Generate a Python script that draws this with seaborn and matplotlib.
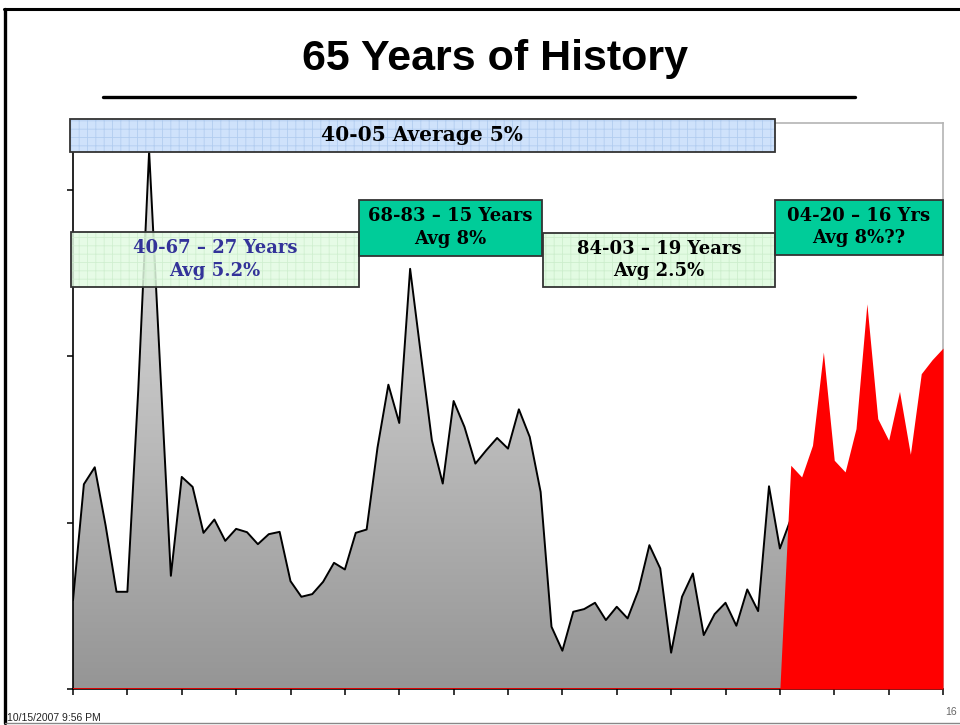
import numpy as np
import matplotlib
matplotlib.use('Agg')
import matplotlib.pyplot as plt
from matplotlib.colors import LinearSegmentedColormap
from matplotlib.patches import Rectangle
from matplotlib.lines import Line2D
import seaborn as sns

# ─── data ───────────────────────────────────────────────────────────────────
years_hist = list(range(1940, 2007))
rate_hist = [2.67, 6.15, 6.66, 4.91, 2.92, 2.92, 8.98, 16.15, 9.75, 3.40,
             6.37, 6.07, 4.69, 5.09, 4.45, 4.81, 4.71, 4.35, 4.65, 4.72,
             3.24, 2.77, 2.85, 3.22, 3.79, 3.59, 4.69, 4.79, 7.25, 9.14,
             7.99, 12.62, 10.02, 7.47, 6.17, 8.65, 7.87, 6.77, 7.17, 7.54,
             7.22, 8.40, 7.57, 5.92, 1.87, 1.15, 2.32, 2.40, 2.59, 2.07,
             2.47, 2.12, 2.97, 4.32, 3.62, 1.09, 2.77, 3.47, 1.62, 2.25,
             2.59, 1.90, 2.99, 2.34, 6.09, 4.22, 5.10]

years_fcst = list(range(2005, 2021))
rate_fcst = [0.0, 6.72, 6.37, 7.32, 10.12, 6.87, 6.52, 7.82, 11.57, 8.12,
             7.47, 8.94, 7.05, 9.47, 9.89, 10.24]

x_ticks = list(range(1940, 2021, 5))
y_ticks = [0, 5, 10, 15]

title = '65 Years of History'
avg_label = '40-05 Average 5%'
period_labels = ['40-67 – 27 Years\nAvg 5.2%',
                 '68-83 – 15 Years\nAvg 8%',
                 '84-03 – 19 Years\nAvg 2.5%',
                 '04-20 – 16 Yrs\nAvg 8%??']
footer_date = '10/15/2007 9:56 PM'
page_no = '16'

# ─── style ──────────────────────────────────────────────────────────────────
sns.set_style('white')
plt.rcParams['font.family'] = ['DejaVu Sans']
plt.rcParams['hatch.linewidth'] = 0.6
plt.rcParams['text.color'] = 'black'

W, H = 960, 725
fig = plt.figure(figsize=(W / 100, H / 100), dpi=100)
fig.patch.set_facecolor('white')
ax = fig.add_axes([73 / W, 1 - 689 / H, 870 / W, 566 / H])

# ── gray history area with vertical gradient ──
grad_cmap = LinearSegmentedColormap.from_list('g', ['#959595', '#e6e6e6'])
poly = ax.fill_between(years_hist, rate_hist, 0, facecolor='none',
                       edgecolor='none', zorder=1)
grad = np.linspace(0, 1, 256).reshape(-1, 1)
im = ax.imshow(grad, extent=[years_hist[0], years_hist[-1], 0, max(rate_hist)],
               origin='lower', cmap=grad_cmap, aspect='auto', zorder=1)
im.set_clip_path(poly.get_paths()[0], transform=ax.transData)
sns.lineplot(x=years_hist, y=rate_hist, color='black', lw=1.4, ax=ax, zorder=2)

# ── red forecast area ──
ax.fill_between(years_fcst, rate_fcst, 0, color='#ff0000', lw=0, zorder=3)
ax.axhline(0, color='#ff0000', lw=1.2, zorder=4)

ax.set_xlim(1940, 2020)
ax.set_ylim(0, 17)
ax.set_xticks(x_ticks)
ax.set_yticks(y_ticks)
ax.set_xticklabels([])
ax.set_yticklabels([])
ax.set_xlabel('')
ax.set_ylabel('')
ax.tick_params(axis='both', direction='out', length=4.5, width=1.1,
               color='black', bottom=True, left=True, top=False, right=False)
for s in ['left', 'bottom']:
    ax.spines[s].set_color('black')
    ax.spines[s].set_linewidth(1.2)
for s in ['top', 'right']:
    ax.spines[s].set_color('#b4b4b4')
    ax.spines[s].set_linewidth(1.2)

# ── label boxes (x0, x1, y0, y1 in data units) ──
def label_box(x0, x1, y0, y1, text, fc, hc, tc, size, alpha=1.0):
    ax.add_patch(Rectangle((x0, y0), x1 - x0, y1 - y0, facecolor=fc,
                           edgecolor=hc, hatch='++' if hc else None, lw=0,
                           alpha=alpha, zorder=6, clip_on=False))
    ax.add_patch(Rectangle((x0, y0), x1 - x0, y1 - y0, fill=False,
                           edgecolor='#333333', lw=1.3, zorder=7, clip_on=False))
    ax.text((x0 + x1) / 2, (y0 + y1) / 2, text, ha='center', va='center',
            color=tc, fontsize=size, fontweight='bold', family='DejaVu Serif',
            linespacing=1.3, zorder=8, clip_on=False)

LIGHT, LIGHT_H = '#e2fbe2', '#cdeecd'
TEAL = '#00cc99'
label_box(1939.7, 2004.55, 16.14, 17.13, avg_label, '#cfe2fb', '#b2cdf0', 'black', 14.5)
label_box(1939.8, 1966.3, 12.06, 13.74, period_labels[0], LIGHT, LIGHT_H, '#333399', 13, alpha=0.85)
label_box(1966.3, 1983.1, 13.02, 14.70, period_labels[1], TEAL, None, 'black', 13)
label_box(1983.2, 2004.55, 12.06, 13.71, period_labels[2], LIGHT, LIGHT_H, 'black', 13)
label_box(2004.55, 2020.0, 13.05, 14.70, period_labels[3], TEAL, None, 'black', 13)

# ── slide decorations ──
fig.text(495 / W, 1 - 70 / H, title, ha='center', va='baseline', color='black',
         fontsize=31, fontweight='bold', family='Liberation Sans')
fig.add_artist(Line2D([103 / W, 855 / W], [1 - 97 / H] * 2, lw=2.4, color='black'))
fig.add_artist(Line2D([5 / W, 5 / W], [1 - 9 / H, 1 - 723 / H], lw=2.4, color='black'))
fig.add_artist(Line2D([4 / W, 1.0], [1 - 9 / H] * 2, lw=2.2, color='black'))
fig.add_artist(Line2D([5 / W, 1.0], [1 - 723 / H] * 2, lw=1.0, color='#888888'))
fig.text(7 / W, 1 - 718 / H, footer_date, ha='left', va='center',
         fontsize=7.5, color='#222222', family='Liberation Sans')
fig.text(945 / W, 1 - 712 / H, page_no, ha='left', va='center',
         fontsize=7.5, color='#666666', family='Liberation Sans')

fig.savefig('out.png', dpi=100)
plt.close(fig)
